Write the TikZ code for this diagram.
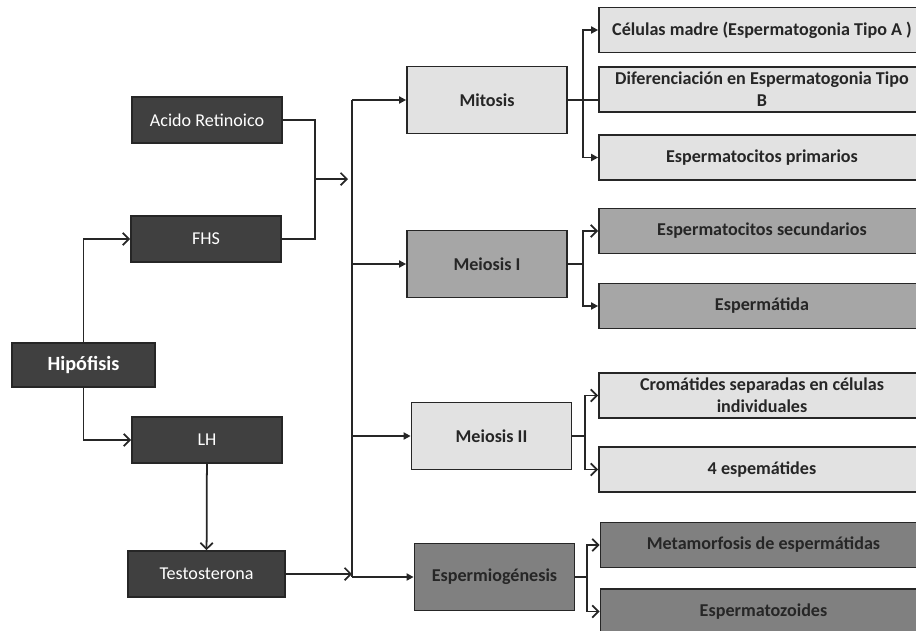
\documentclass[tikz,border=0pt]{standalone}
\usepackage{fontspec}
\setmainfont{Carlito}
\usetikzlibrary{arrows.meta}

\definecolor{darkbox}{HTML}{404040}
\definecolor{lightbox}{HTML}{E2E2E2}
\definecolor{midbox}{HTML}{A6A6A6}
\definecolor{deepbox}{HTML}{808080}
\definecolor{edge}{HTML}{262626}

\tikzset{
  box/.style={draw=edge, line width=1pt, inner sep=0pt, align=center,
    font=\fontsize{10.3}{12.4}\selectfont},
  hormone/.style={box, fill=darkbox, text=white, minimum width=3cm, minimum height=0.92cm},
  phase/.style={box, fill=#1, text=edge, font=\fontsize{10.3}{12.4}\selectfont\bfseries,
    minimum width=3.2cm, minimum height=1.34cm},
  result/.style={box, fill=#1, text=edge, font=\fontsize{10.3}{12.4}\selectfont\bfseries,
    minimum width=6.52cm, minimum height=0.9cm},
  link/.style={draw=edge, line width=1pt},
  open/.style={link, -{Straight Barb[length=3.5pt,width=7pt]}},
  solid/.style={link, -{Triangle[length=4pt,width=4pt]}},
}

\begin{document}
\begin{tikzpicture}[x=0.02cm, y=-0.02cm]
	\clip (0,0) rectangle (916,630);

	% hormones
	\node[hormone, minimum width=2.86cm, minimum height=0.88cm,
	  font=\fontsize{11.5}{13}\selectfont\bfseries] (hipo) at (83.5,365) {Hipófisis};
	\node[hormone] (acido) at (207,120) {Acido Retinoico};
	\node[hormone] (fhs) at (206,239) {FHS};
	\node[hormone] (lh) at (207,440) {LH};
	\node[hormone, minimum width=3.14cm] (testo) at (206.5,574) {Testosterona};

	% phases
	\node[phase=lightbox] (mitosis) at (487,100) {Mitosis};
	\node[phase=midbox] (meiosisI) at (487,264) {Meiosis I};
	\node[phase=lightbox] (meiosisII) at (491.5,436) {Meiosis II};
	\node[phase=deepbox] (espermio) at (494.5,577) {Espermiogénesis};

	% results
	\node[result=lightbox] (celulas) at (762,30) {Células madre (Espermatogonia Tipo A )};
	\node[result=lightbox] (difer) at (762,89.5) {Diferenciación en Espermatogonia Tipo\\B};
	\node[result=lightbox] (primarios) at (762,157.5) {Espermatocitos primarios};
	\node[result=midbox] (secund) at (762,231) {Espermatocitos secundarios};
	\node[result=midbox] (espermatida) at (762,306) {Espermátida};
	\node[result=lightbox] (cromat) at (762,395.5) {Cromátides separadas en células\\individuales};
	\node[result=lightbox] (cuatro) at (762,469.5) {4 espemátides};
	\node[result=deepbox] (metamorf) at (763.5,545) {Metamorfosis de espermátidas};
	\node[result=deepbox] (zoides) at (763.5,611.5) {Espermatozoides};

	% hormone links
	\draw[open] (hipo.north) |- (fhs.west);
	\draw[open] (hipo.south) |- (lh.west);
	\draw[open] (lh) -- (testo);
	\coordinate (join) at (315,179);
	\coordinate (busin) at (348,179);
	\draw[link] (acido.east) -| (join) |- (fhs.east);
	\draw[open] (join) -- (busin);

	% main bus
	\coordinate (bustop) at (352,100);
	\coordinate (busbot) at (352,577);
	\draw[link] (bustop) -- (busbot);
	\draw[open] (testo.east) -- (testo.east -| bustop);
	\draw[solid] (bustop) -- (mitosis.west);
	\draw[solid] (bustop |- meiosisI.west) -- (meiosisI.west);
	\draw[solid] (bustop |- meiosisII.west) -- (meiosisII.west);
	\draw[solid] (busbot) -- (espermio.west);

	% branches
	\coordinate (mit) at (583,100);
	\draw[link] (mitosis.east) -- (difer.west |- mit);
	\draw[solid] (mit) |- (celulas.west);
	\draw[solid] (mit) |- (primarios.west);

	\coordinate (mei1) at (583,264);
	\draw[link] (meiosisI.east) -- (mei1);
	\draw[open] (mei1) |- (secund.west);
	\draw[solid] (mei1) |- (espermatida.west);

	\coordinate (mei2) at (585,436);
	\draw[link] (meiosisII.east) -- (mei2);
	\draw[open] (mei2) |- (cromat.west);
	\draw[open] (mei2) |- (cuatro.west);

	\coordinate (esp) at (587,577);
	\draw[link] (espermio.east) -- (esp);
	\draw[open] (esp) |- (metamorf.west);
	\draw[open] (esp) |- (zoides.west);
\end{tikzpicture}
\end{document}
